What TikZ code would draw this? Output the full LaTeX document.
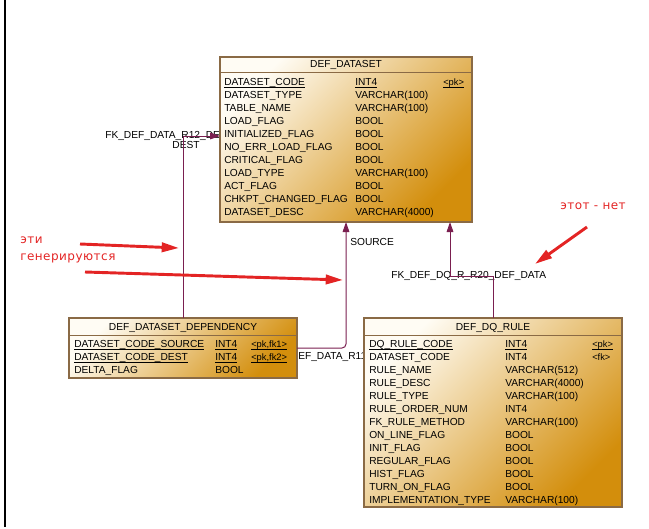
\documentclass[tikz,border=0pt]{standalone}
\usepackage{fontspec}
\setmainfont{Liberation Sans}
\newfontfamily\annfont[LetterSpace=4]{DejaVu Sans}
\usetikzlibrary{arrows.meta}
\definecolor{tblborder}{HTML}{8A6A45}
\definecolor{tbllight}{HTML}{FFFCF4}
\definecolor{tbldark}{HTML}{D38E0C}
\definecolor{conn}{HTML}{7A1F50}
\definecolor{annred}{HTML}{E32424}
\newcommand\myul[1]{\setbox0\hbox{#1}\rlap{\vrule width\wd0 height -1.0pt depth 1.5pt}\box0}
\tikzset{
  tbl/.style={draw=tblborder, line width=0.8pt, shading=axis, top color=tbllight, bottom color=tbldark, shading angle=45, anchor=north west, inner sep=0pt, outer sep=0pt},
  sep/.style={draw=tblborder, line width=0.7pt},
  cell/.style={anchor=base west, inner sep=0pt, font=\fontsize{7.65}{9}\selectfont},
  keycell/.style={anchor=base west, inner sep=0pt, font=\fontsize{7}{8}\selectfont},
  ttl/.style={anchor=base, inner sep=0pt, font=\fontsize{7.65}{9}\selectfont},
  fk/.style={draw=conn, line width=0.75pt},
  fkarrow/.style={fk, -{Triangle[length=7.5pt,width=5pt]}},
  lbl/.style={inner sep=0pt, font=\fontsize{7.65}{9}\selectfont},
  ann/.style={text=annred, inner sep=0pt, font=\annfont\fontsize{9}{10}\selectfont, anchor=west},
  annarrow/.style={draw=annred, line width=2.2pt, -{Triangle[length=13pt,width=7pt]}},
}
\begin{document}
\begin{tikzpicture}[x=0.75pt,y=-0.75pt]
\useasboundingbox (0,0) rectangle (649,528);
% left border
\coordinate (bt) at (4.5,0);
\coordinate (bb) at (4.5,527);
\draw[black, line width=1.5pt] (bt) -- (bb);

% tables (positions only, drawn later)
\path (220,57) coordinate (dsnw);
\path (69,318) coordinate (depnw);
\path (364,318) coordinate (dqnw);

% connector labels (visible parts)
\node[lbl, anchor=west] (l12) at (105,136) {FK\_DEF\_DATA\_R12\_DE};
\node[lbl, anchor=center] (l12b) at (186,145) {DEST};
\node[lbl, anchor=west] (l11) at (298,357) {EF\_DATA\_R11};
\node[lbl, anchor=west] (lsrc) at (350,242) {SOURCE};
\node[lbl, anchor=west] (l20) at (391,276) {FK\_DEF\_DQ\_R\_R20\_DEF\_DATA};

% tables
\node[tbl, minimum width=189pt, minimum height=123.75pt] (ds) at (dsnw) {};
\node[tbl, minimum width=171pt, minimum height=45pt] (dep) at (depnw) {};
\node[tbl, minimum width=193.5pt, minimum height=141.75pt] (dq) at (dqnw) {};

% connectors
\coordinate (r12bend) at (183,136);
\draw[fkarrow] (dep.north) -- (r12bend) -- (r12bend -| ds.west);
\draw[fkarrow, rounded corners=3pt] (dep.east) -| (ds.south);
\coordinate (r20bend) at (450,276);
\draw[fkarrow] (dq.north) |- (r20bend) -- (r20bend |- ds.south);

% separators
\draw[sep] ([yshift=-11.25pt]ds.north west) -- ([yshift=-11.25pt]ds.north east);
\draw[sep] ([yshift=-12.75pt]dep.north west) -- ([yshift=-12.75pt]dep.north east);
\draw[sep] ([yshift=-12.75pt]dq.north west) -- ([yshift=-12.75pt]dq.north east);

% DEF_DATASET
\node[ttl] (dst) at (346,68) {DEF\_DATASET};
\node[cell] (ds-n0) at (224,85.7) {\myul{DATASET\_CODE}};
\node[cell] (ds-t0) at (355,85.7) {\myul{INT4}};
\node[keycell] (ds-k0) at (443,85.7) {\myul{<pk>}};
\foreach \n/\t [count=\i] in {DATASET\_TYPE/VARCHAR(100), TABLE\_NAME/VARCHAR(100), LOAD\_FLAG/BOOL, INITIALIZED\_FLAG/BOOL, NO\_ERR\_LOAD\_FLAG/BOOL, CRITICAL\_FLAG/BOOL, LOAD\_TYPE/VARCHAR(100), ACT\_FLAG/BOOL, CHKPT\_CHANGED\_FLAG/BOOL, DATASET\_DESC/VARCHAR(4000)}{
  \node[cell] (ds-n\i) at (224,85.7+13*\i) {\n};
  \node[cell] (ds-t\i) at (355,85.7+13*\i) {\t};
}

% DEF_DATASET_DEPENDENCY
\node[ttl] (dept) at (183,330.2) {DEF\_DATASET\_DEPENDENCY};
\node[cell] (dep-n0) at (74,347.7) {\myul{DATASET\_CODE\_SOURCE}};
\node[cell] (dep-t0) at (215,347.7) {\myul{INT4}};
\node[keycell] (dep-k0) at (251,347.7) {\myul{<pk,fk1>}};
\node[cell] (dep-n1) at (74,360.7) {\myul{DATASET\_CODE\_DEST}};
\node[cell] (dep-t1) at (215,360.7) {\myul{INT4}};
\node[keycell] (dep-k1) at (251,360.7) {\myul{<pk,fk2>}};
\node[cell] (dep-n2) at (74,373.7) {DELTA\_FLAG};
\node[cell] (dep-t2) at (215,373.7) {BOOL};

% DEF_DQ_RULE
\node[ttl] (dqt) at (493,330.2) {DEF\_DQ\_RULE};
\node[cell] (dq-n0) at (369,347.7) {\myul{DQ\_RULE\_CODE}};
\node[cell] (dq-t0) at (505,347.7) {\myul{INT4}};
\node[keycell] (dq-k0) at (592,347.7) {\myul{<pk>}};
\node[keycell] (dq-k1) at (592,360.7) {<fk>};
\foreach \n/\t [count=\i] in {DATASET\_CODE/INT4, RULE\_NAME/VARCHAR(512), RULE\_DESC/VARCHAR(4000), RULE\_TYPE/VARCHAR(100), RULE\_ORDER\_NUM/INT4, FK\_RULE\_METHOD/VARCHAR(100), ON\_LINE\_FLAG/BOOL, INIT\_FLAG/BOOL, REGULAR\_FLAG/BOOL, HIST\_FLAG/BOOL, TURN\_ON\_FLAG/BOOL, IMPLEMENTATION\_TYPE/VARCHAR(100)}{
  \node[cell] (dq-n\i) at (369,347.7+13*\i) {\n};
  \node[cell] (dq-t\i) at (505,347.7+13*\i) {\t};
}

% annotations
\node[ann] (a1) at (20,240) {эти};
\node[ann] (a2) at (20,258) {генерируются};
\node[ann] (a3) at (560,206) {этот - нет};
\coordinate (ar1s) at (80,244);
\coordinate (ar1e) at (179,248);
\coordinate (ar2s) at (85,272);
\coordinate (ar2e) at (343,280);
\coordinate (ar3s) at (587,227);
\coordinate (ar3e) at (535,264);
\draw[annarrow] (ar1s) -- (ar1e);
\draw[annarrow] (ar2s) -- (ar2e);
\draw[annarrow] (ar3s) -- (ar3e);
\end{tikzpicture}
\end{document}
